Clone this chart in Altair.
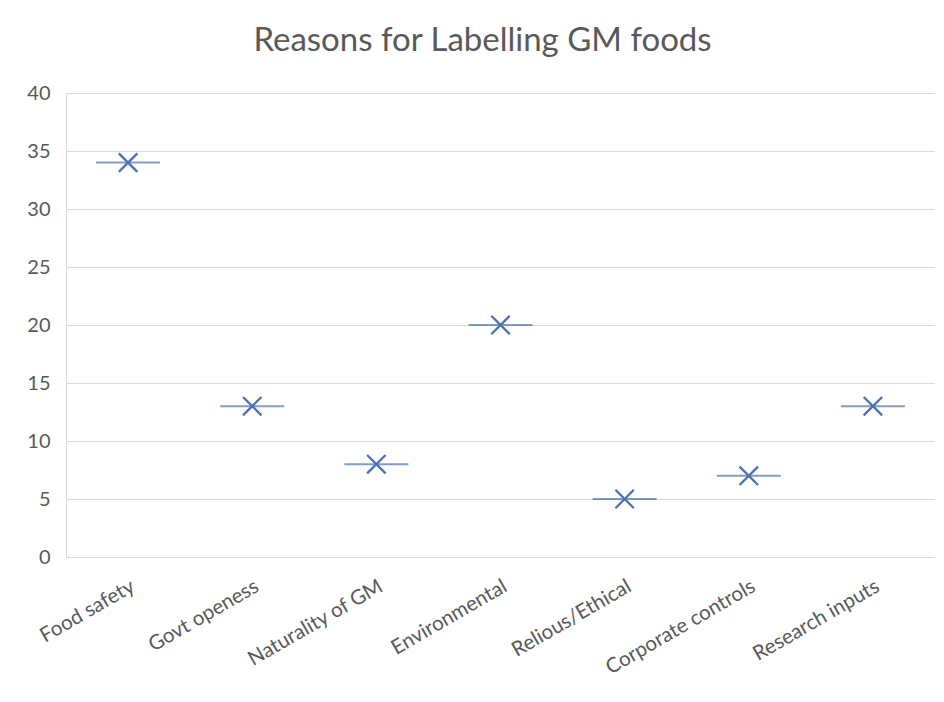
import altair as alt
import pandas as pd

categories = ["Food safety", "Govt openess", "Naturality of GM", "Environmental",
              "Relious/Ethical", "Corporate controls", "Research inputs"]
values = [34, 13, 8, 20, 5, 7, 13]

df = pd.DataFrame({"reason": categories, "count": values})

FONT = "Lato"
BLUE = "#4a72b0"

x = alt.X("reason:N", sort=categories, title=None,
          scale=alt.Scale(paddingInner=0, paddingOuter=0),
          axis=alt.Axis(labelAngle=-30, labelAlign="right", labelBaseline="top",
                        labelFontSize=20.5, labelColor="#595959", labelFont=FONT,
                        ticks=False, domainColor="#d9d9d9", labelPadding=19))
y = alt.Y("count:Q", title=None,
          scale=alt.Scale(domain=[0, 40]),
          axis=alt.Axis(values=list(range(0, 41, 5)), labelFontSize=20,
                        labelColor="#595959", labelFont=FONT, ticks=False,
                        gridColor="#d9d9d9", domainColor="#d9d9d9", labelPadding=16))

base = alt.Chart(df).encode(x=x, y=y)

ticks = base.mark_tick(color=BLUE, size=64, thickness=2, orient="horizontal")
marks = base.mark_point(shape="M-1,-1L1,1M1,-1L-1,1", size=340, filled=False,
                        color=BLUE, strokeWidth=2.3, opacity=1)

chart = (ticks + marks).properties(
    width=869, height=464,
    title=alt.TitleParams("Reasons for Labelling GM foods", fontSize=33, font=FONT,
                          fontWeight="normal", color="#595959", offset=25, dx=-18),
    autosize=alt.AutoSizeParams(type="none"),
    padding={"left": 58, "top": 85, "right": 0, "bottom": 128},
).configure_view(stroke=None)

chart.save("out.html", embed_options={"renderer": "svg", "actions": False})
